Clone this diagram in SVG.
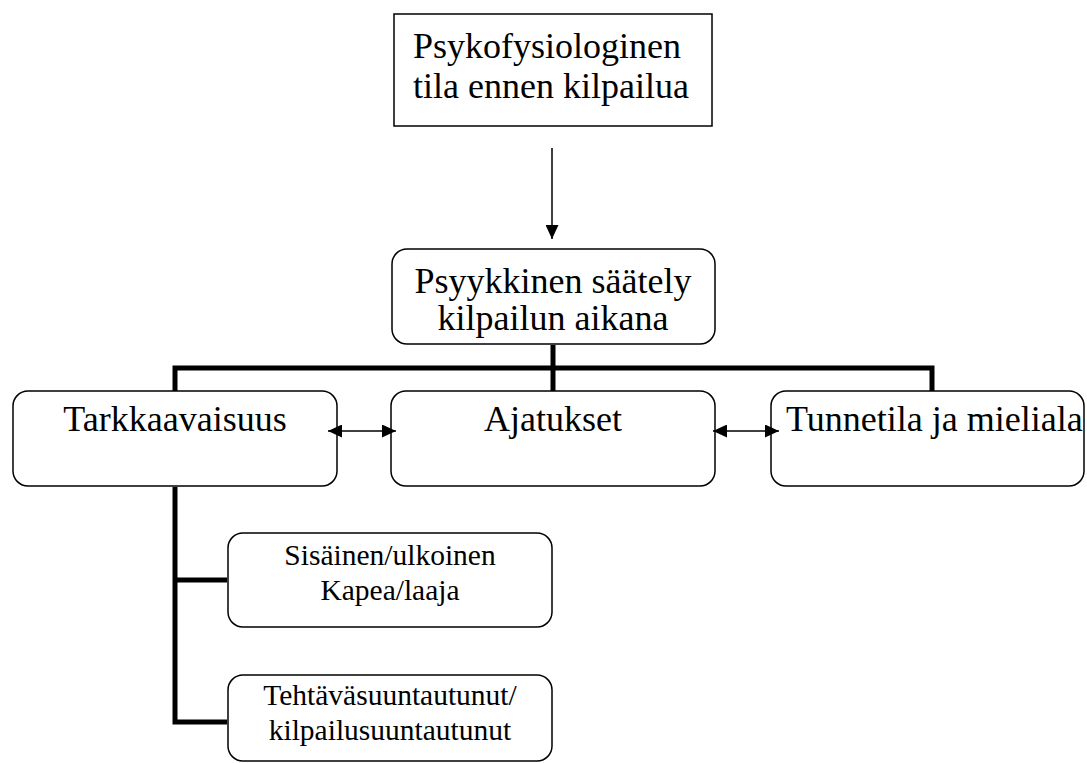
<svg xmlns="http://www.w3.org/2000/svg" width="1087" height="763" viewBox="0 0 1087 763">
<style>
.box{fill:#fff;stroke:#000;stroke-width:1.5}
.t{font-family:"Liberation Serif","Times New Roman",serif;fill:#000}
.big{font-size:36px}
.small{font-size:29.5px}
.thick{fill:none;stroke:#000;stroke-width:5}
.thin{fill:none;stroke:#000;stroke-width:1.5}
</style>
<defs>
<marker id="ah" viewBox="0 0 14 13" refX="14" refY="6.5" markerWidth="14" markerHeight="13" markerUnits="userSpaceOnUse" orient="auto-start-reverse">
<path d="M0,0 L14,6.5 L0,13 Z" fill="#000"/>
</marker>
</defs>
<rect width="1087" height="763" fill="#fff"/>
<g id="n-top">
<rect class="box" x="394" y="14" width="318" height="112"/>
<text class="t big" x="413" y="58">Psykofysiologinen</text>
<text class="t big" x="413" y="98">tila ennen kilpailua</text>
</g>
<g id="n-saately">
<rect class="box" x="392" y="249" width="323" height="95" rx="15"/>
<text class="t big" x="553" y="293" text-anchor="middle">Psyykkinen säätely</text>
<text class="t big" x="553" y="330" text-anchor="middle">kilpailun aikana</text>
</g>
<g id="n-tark">
<rect class="box" x="13" y="391" width="324" height="95" rx="15"/>
<text class="t big" x="175" y="431" text-anchor="middle">Tarkkaavaisuus</text>
</g>
<g id="n-ajat">
<rect class="box" x="391" y="391" width="324" height="95" rx="15"/>
<text class="t big" x="553" y="431" text-anchor="middle">Ajatukset</text>
</g>
<g id="n-tunne">
<rect class="box" x="771" y="391" width="313" height="95" rx="15"/>
<text class="t big" x="786" y="431">Tunnetila ja mieliala</text>
</g>
<g id="n-sis">
<rect class="box" x="228" y="533" width="324" height="94" rx="15"/>
<text class="t small" x="390" y="565" text-anchor="middle">Sisäinen/ulkoinen</text>
<text class="t small" x="390" y="600" text-anchor="middle">Kapea/laaja</text>
</g>
<g id="n-teht">
<rect class="box" x="228" y="675" width="324" height="86" rx="15"/>
<text class="t small" x="390" y="705" text-anchor="middle">Tehtäväsuuntautunut/</text>
<text class="t small" x="390" y="740" text-anchor="middle">kilpailusuuntautunut</text>
</g>
<g id="connectors">
<line class="thin" x1="552" y1="148" x2="552" y2="239" marker-end="url(#ah)"/>
<polyline class="thick" points="553,345 553,391"/>
<polyline class="thick" points="175,391 175,368 932,368 932,391"/>
<polyline class="thick" points="175,487 175,722 227,722"/>
<line class="thick" x1="175" y1="580" x2="227" y2="580"/>
<line class="thin" x1="328" y1="431" x2="396" y2="431" marker-start="url(#ah)" marker-end="url(#ah)"/>
<line class="thin" x1="713" y1="431" x2="779" y2="431" marker-start="url(#ah)" marker-end="url(#ah)"/>
</g>
</svg>
